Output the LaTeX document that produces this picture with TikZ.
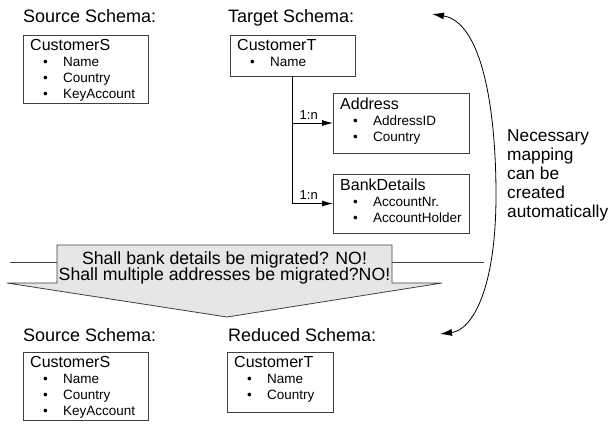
\documentclass[tikz,border=0pt]{standalone}
\usepackage{fontspec}
\setmainfont{Liberation Sans}
\usetikzlibrary{arrows.meta,calc}
\definecolor{boxline}{HTML}{404040}
\definecolor{arrfill}{HTML}{E6E6E6}
\newcommand{\itm}[1]{\hbox{\fontsize{13.5}{16}\selectfont\makebox[33pt][l]{\hspace{13pt}\textbullet}#1}}
\newcommand{\boxtext}[2]{\vtop{\baselineskip=16pt\lineskiplimit=-20pt\hbox{\fontsize{16}{16}\selectfont #1}#2}}
\begin{document}
\begin{tikzpicture}[x=1pt,y=-1pt,
  box/.style={draw=boxline, line width=0.8pt, anchor=north west, inner sep=0pt, outer sep=0pt},
  boxtxt/.style={anchor=base west, inner sep=0pt},
  head/.style={font=\fontsize{18}{18}\selectfont, anchor=base west, inner sep=0pt},
  conn/.style={draw=black, line width=0.8pt, -{Latex[length=11pt,width=6pt]}},
  lbl/.style={font=\fontsize{13}{13}\selectfont, anchor=base west, inner sep=0pt},
  curve/.style={draw=black, line width=0.8pt, {Latex[length=12pt,width=7pt]}-{Latex[length=12pt,width=7pt]}}]
\useasboundingbox (0,0) rectangle (608,424);

% headings
\node[head] (hs1) at (23,22) {Source Schema:};
\node[head] (ht1) at (228,22) {Target Schema:};
\node[head] (hs2) at (23,341) {Source Schema:};
\node[head] (hr2) at (228,341) {Reduced Schema:};

% boxes
\node[box, minimum width=125pt, minimum height=68pt] (cs1) at (23,35) {};
\node[box, minimum width=125pt, minimum height=41pt] (ct1) at (230,35) {};
\node[box, minimum width=136pt, minimum height=60pt] (addr) at (333,93) {};
\node[box, minimum width=136pt, minimum height=59pt] (bank) at (333,174) {};
\node[box, minimum width=125pt, minimum height=68pt] (cs2) at (23,352) {};
\node[box, minimum width=106pt, minimum height=60pt] (ct2) at (227,352) {};

% box texts
\node[boxtxt] (cs1t) at ($(cs1.north west)+(7,15)$) {\boxtext{CustomerS}{\itm{Name}\itm{Country}\itm{KeyAccount}}};
\node[boxtxt] (ct1t) at ($(ct1.north west)+(7,15)$) {\boxtext{CustomerT}{\itm{Name}}};
\node[boxtxt] (addrt) at ($(addr.north west)+(7,16)$) {\boxtext{Address}{\itm{AddressID}\itm{Country}}};
\node[boxtxt] (bankt) at ($(bank.north west)+(7,16)$) {\boxtext{BankDetails}{\itm{AccountNr.}\itm{AccountHolder}}};
\node[boxtxt] (cs2t) at ($(cs2.north west)+(7,15)$) {\boxtext{CustomerS}{\itm{Name}\itm{Country}\itm{KeyAccount}}};
\node[boxtxt] (ct2t) at ($(ct2.north west)+(7,15)$) {\boxtext{CustomerT}{\itm{Name}\itm{Country}}};

% connectors
\draw[conn] (ct1.south) |- (bank.west);
\draw[conn] (ct1.south |- addr.west) -- (addr.west);
\node[lbl] (l1) at ($(ct1.south |- addr.west)+(7,-4)$) {1:n};
\node[lbl] (l2) at ($(ct1.south |- bank.west)+(7,-4)$) {1:n};

% big arrow
\draw[line width=0.8pt, draw=boxline] (10,262) -- (484,262);
\draw[line width=0.8pt, draw=boxline, fill=arrfill]
  (57,245) -- (392,245) -- (392,283) -- (442,283) -- (227,317) -- (7,283) -- (57,283) -- cycle;
\node[anchor=base, inner sep=0pt, font=\fontsize{17.7}{17.7}\selectfont] (q1) at (224.5,264) {Shall bank details be migrated? NO!};
\node[anchor=base, inner sep=0pt, font=\fontsize{17.7}{17.7}\selectfont] (q2) at (224.5,280) {Shall multiple addresses be migrated?NO!};

% curve
\coordinate (ctop) at (432,14);
\coordinate (cmid) at (496,195);
\coordinate (cbot) at (440,334);
\draw[curve] (ctop) .. controls (481,22) and (496,105) .. (cmid) .. controls (496,290) and (472,330) .. (cbot);

\node[anchor=base west, inner sep=0pt] (nec) at (507,141) {\vtop{\baselineskip=19pt\fontsize{17.3}{19}\selectfont\hbox{Necessary}\hbox{mapping}\hbox{can be}\hbox{created}\hbox{automatically}}};
\end{tikzpicture}
\end{document}
